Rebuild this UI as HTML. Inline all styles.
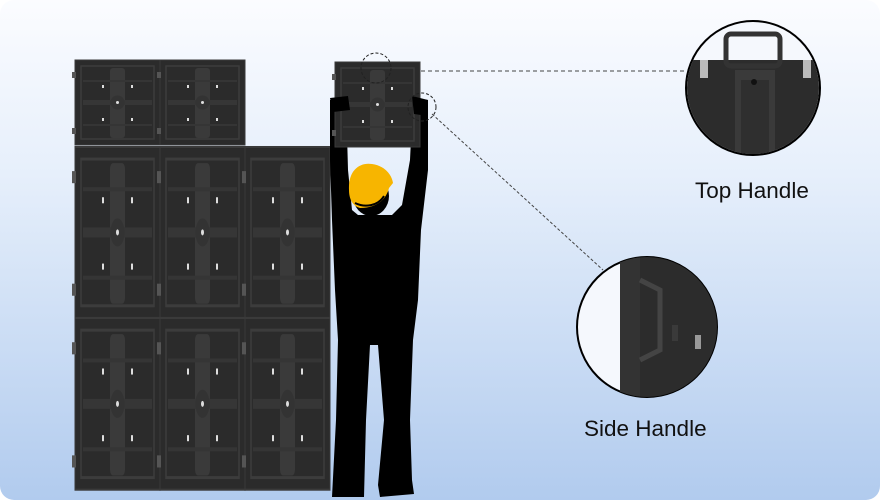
<!DOCTYPE html>
<html><head><style>
html,body{margin:0;padding:0;background:#fff;}
svg{display:block}
text{font-family:"Liberation Sans",sans-serif;}
</style></head><body>
<svg width="880" height="500" viewBox="0 0 880 500" xmlns="http://www.w3.org/2000/svg">
<defs>
<linearGradient id="bg" x1="0" y1="0" x2="0" y2="1">
<stop offset="0" stop-color="#fbfcff"/><stop offset="0.35" stop-color="#e6effb"/><stop offset="1" stop-color="#b1cbee"/>
</linearGradient>
<g id="panel">
<rect x="0" y="0" width="85" height="85" fill="#2b2b2b" stroke="#3a3a3a"/>
<rect x="6" y="6" width="73" height="73" fill="none" stroke="#3c3c3c" stroke-width="1.5"/>
<rect x="35" y="8" width="15" height="70" rx="3" fill="#3a3a3a"/>
<rect x="8" y="40" width="69" height="5" fill="#363636"/>
<rect x="8" y="20" width="69" height="2" fill="#353535"/>
<rect x="8" y="64" width="69" height="2" fill="#353535"/>
<circle cx="42.5" cy="42.5" r="7" fill="#333"/>
<circle cx="42.5" cy="42.5" r="1.5" fill="#ddd"/>
<rect x="27" y="25" width="2" height="3" fill="#ddd"/><rect x="56" y="25" width="2" height="3" fill="#ddd"/>
<rect x="27" y="58" width="2" height="3" fill="#ddd"/><rect x="56" y="58" width="2" height="3" fill="#ddd"/>
<rect x="-3" y="12" width="4" height="6" fill="#555"/><rect x="-3" y="68" width="4" height="6" fill="#555"/>
</g>
<clipPath id="c1"><circle cx="753" cy="88" r="66"/></clipPath>
<clipPath id="c2"><circle cx="647" cy="327" r="70"/></clipPath>
</defs>
<rect x="0" y="0" width="880" height="500" rx="14" fill="url(#bg)"/>
<use href="#panel" x="75" y="60"/>
<use href="#panel" x="160" y="60"/>
<g transform="translate(75,147) scale(1,2.01)"><use href="#panel"/></g>
<g transform="translate(160,147) scale(1,2.01)"><use href="#panel"/></g>
<g transform="translate(245,147) scale(1,2.01)"><use href="#panel"/></g>
<g transform="translate(75,318) scale(1,2.02)"><use href="#panel"/></g>
<g transform="translate(160,318) scale(1,2.02)"><use href="#panel"/></g>
<g transform="translate(245,318) scale(1,2.02)"><use href="#panel"/></g>
<path d="M330,100 L346,98 L348,170 L352,210 L358,215 L392,215 L402,205 L410,160 L413,98 L428,100 L428,170 L421,230 L418,300 L413,340 L410,420 L412,480 L414,494 L380,497 L378,485 L384,420 L378,345 L370,345 L366,420 L364,497 L332,497 L336,420 L338,340 L335,290 L332,220 L330,160 Z" fill="#000"/>
<ellipse cx="371" cy="196" rx="18" ry="20" fill="#000"/>
<use href="#panel" x="335" y="62"/>
<path d="M330,98 L348,96 L350,110 L333,112 Z M412,96 L428,100 L428,116 L414,114 Z" fill="#000"/>
<path d="M349,190 C348,170 360,162 372,164 C386,166 392,176 393,183 L389,188 C386,200 376,208 360,208 C352,206 349,198 349,190 Z" fill="#f7b500"/>
<path d="M355,203 C365,208 378,206 384,196" stroke="#000" stroke-width="2" fill="none"/>
<circle cx="376" cy="68" r="15" fill="none" stroke="#222" stroke-dasharray="3,2"/>
<circle cx="422" cy="107" r="14" fill="none" stroke="#222" stroke-dasharray="3,2"/>
<line x1="421" y1="71" x2="686" y2="71" stroke="#444" stroke-dasharray="4,3"/>
<line x1="432" y1="114" x2="603" y2="270" stroke="#444" stroke-dasharray="3,2"/>
<circle cx="753" cy="88" r="67" fill="#f5f8fd" stroke="#000" stroke-width="2"/>
<g clip-path="url(#c1)">
<rect x="680" y="60" width="150" height="100" fill="#2c2c2c"/>
<rect x="735" y="70" width="40" height="90" fill="#3a3a3a"/>
<rect x="741" y="80" width="28" height="80" fill="#2f2f2f"/>
<rect x="726" y="34" width="54" height="32" rx="5" fill="none" stroke="#333" stroke-width="5"/>
<rect x="700" y="60" width="8" height="18" fill="#bbb"/><rect x="803" y="60" width="8" height="18" fill="#bbb"/>
<circle cx="754" cy="82" r="3" fill="#111"/>
</g>
<circle cx="647" cy="327" r="70" fill="#f5f8fd" stroke="#000" stroke-width="2"/>
<g clip-path="url(#c2)">
<rect x="620" y="255" width="110" height="150" fill="#2c2c2c"/>
<rect x="620" y="255" width="20" height="150" fill="#333"/>
<path d="M640,280 L660,290 L660,350 L640,360" stroke="#444" stroke-width="5" fill="none"/>
<rect x="672" y="325" width="6" height="16" fill="#3a3a3a"/>
<rect x="695" y="335" width="6" height="14" fill="#999"/>
</g>
<text x="695" y="198" font-size="22.5" fill="#111">Top Handle</text>
<text x="584" y="436" font-size="22.5" fill="#111">Side Handle</text>
</svg>
</body></html>
